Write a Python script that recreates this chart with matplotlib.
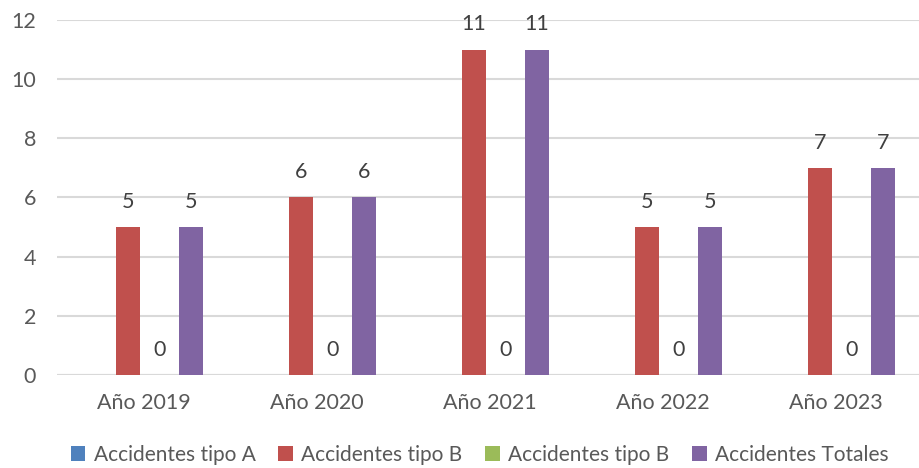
import numpy as np
import matplotlib.pyplot as plt

plt.rcParams['font.family'] = ['Lato', 'DejaVu Sans']

years = ["Año 2019", "Año 2020", "Año 2021", "Año 2022", "Año 2023"]
tipo_a = [0, 0, 0, 0, 0]
tipo_b = [5, 6, 11, 5, 7]
tipo_b2 = [0, 0, 0, 0, 0]
totales = [5, 6, 11, 5, 7]

series = [
    ("Accidentes tipo A", tipo_a, "#4f81bd", False),
    ("Accidentes tipo B", tipo_b, "#c0504d", True),
    ("Accidentes tipo B", tipo_b2, "#9bbb59", True),
    ("Accidentes Totales", totales, "#8064a2", True),
]

fig = plt.figure(figsize=(9.19, 4.68), dpi=100)
ax = fig.add_axes([0.062, 0.199, 0.942, 0.758])

x = np.arange(len(years))
step = 0.182
width = 0.139
handles = []
for i, (name, vals, color, labels) in enumerate(series):
    pos = x + (i - 1.5) * step
    bars = ax.bar(pos, vals, width, color=color, label=name, zorder=3)
    handles.append(bars)
    if labels:
        for p, v in zip(pos, vals):
            ax.annotate(str(v), (p, v), xytext=(0, 11), textcoords="offset points",
                        ha="center", va="bottom", fontsize=15.5, color="#404040")

ax.set_xlim(-0.5, 4.5)
ax.set_ylim(0, 12)
ax.set_yticks(range(0, 13, 2))
ax.set_xticks(x)
ax.set_xticklabels(years)
ax.grid(axis="y", color="#d9d9d9", linewidth=1.5, zorder=0)
ax.axhline(0, color="#d9d9d9", linewidth=1.5, zorder=2)
for s in ax.spines.values():
    s.set_visible(False)
ax.tick_params(axis="both", length=0, labelsize=15.5, labelcolor="#595959")
ax.tick_params(axis="x", pad=13)
ax.tick_params(axis="y", pad=15)

fig.legend(handles=handles, loc="center", bbox_to_anchor=(0.522, 0.028), ncol=4,
           frameon=False, fontsize=15, labelcolor="#595959", handlelength=0.7,
           handleheight=0.7, handletextpad=0.4, columnspacing=1.1)

fig.savefig("out.png", dpi=100)
